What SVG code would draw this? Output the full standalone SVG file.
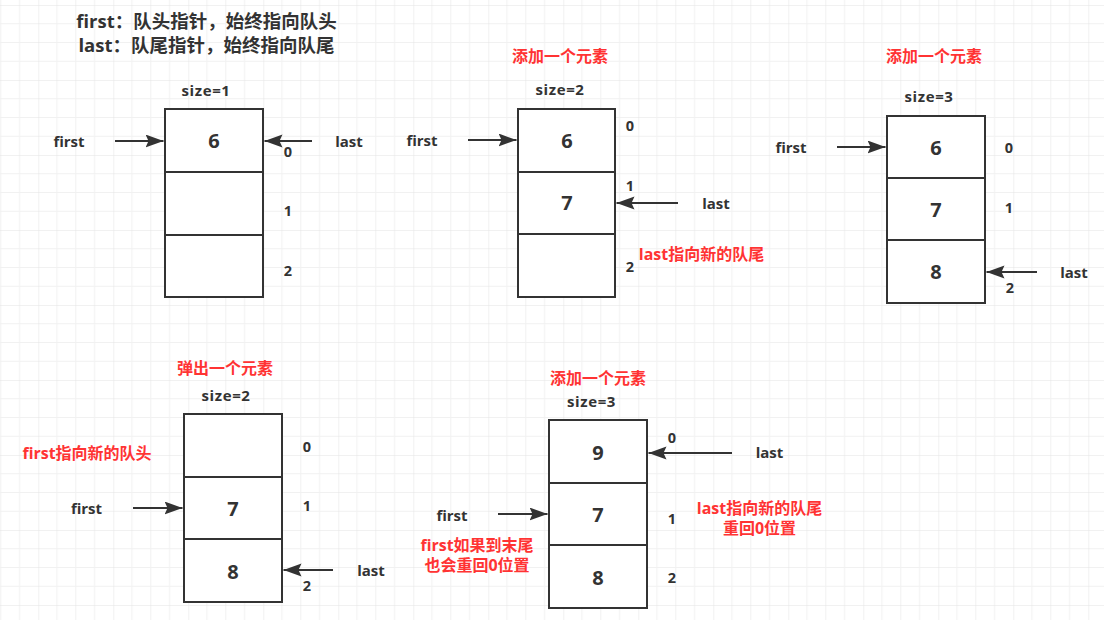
<svg xmlns="http://www.w3.org/2000/svg" width="1104" height="620" viewBox="0 0 1104 620">
<style>
text{font-family:"Open Sans","Noto Sans CJK SC",sans-serif;font-weight:bold;fill:#333333}
.title{font-size:18.5px;text-anchor:middle}
.lbl{font-size:15px;text-anchor:middle}
.size{font-size:15px;text-anchor:middle;letter-spacing:0.6px}
.val{font-size:20px;text-anchor:middle}
.idx{font-size:14.5px;text-anchor:middle}
.red{font-size:16px;text-anchor:middle;fill:#FF3333}
.cell{fill:#ffffff;stroke:#333333;stroke-width:2}
.arr{stroke:#333333;stroke-width:2;fill:none;marker-end:url(#ah)}
</style>
<defs>
<pattern id="grid" patternUnits="userSpaceOnUse" x="38.3" y="5" width="75" height="75">
<path d="M18.75 0V75M37.5 0V75M56.25 0V75M0 18.75H75M0 37.5H75M0 56.25H75" stroke="#F1F1F1" stroke-width="1" fill="none"/>
<path d="M0 0V75M0 0H75" stroke="#E3E3E3" stroke-width="1" fill="none"/>
</pattern>
<marker id="ah" markerUnits="userSpaceOnUse" markerWidth="19" markerHeight="14" refX="18" refY="6.5" orient="auto">
<path d="M0 0L18 6.5L0 13L3 6.5Z" fill="#333333"/>
</marker>
</defs>
<rect width="1104" height="620" fill="#ffffff"/>
<rect width="1104" height="620" fill="url(#grid)"/>

<g id="title">
<text class="title" x="206.5" y="28">first：队头指针，始终指向队头</text>
<text class="title" x="206.5" y="52">last：队尾指针，始终指向队尾</text>
</g>

<g id="queue1">
<text class="size" x="206" y="96">size=1</text>
<rect class="cell" x="165" y="109" width="98" height="63"/>
<rect class="cell" x="165" y="172" width="98" height="63"/>
<rect class="cell" x="165" y="235" width="98" height="62"/>
<text class="val" x="214" y="148">6</text>
<text class="idx" x="288" y="157">0</text>
<text class="idx" x="288" y="216">1</text>
<text class="idx" x="288" y="276">2</text>
<text class="lbl" x="69" y="146.5">first</text>
<text class="lbl" x="349" y="146.5">last</text>
</g>

<g id="queue2">
<text class="red" x="560" y="62">添加一个元素</text>
<text class="size" x="560" y="95">size=2</text>
<rect class="cell" x="518" y="109" width="97" height="63"/>
<rect class="cell" x="518" y="172" width="97" height="62"/>
<rect class="cell" x="518" y="234" width="97" height="63"/>
<text class="val" x="567" y="148">6</text>
<text class="val" x="567" y="210">7</text>
<text class="idx" x="630" y="131">0</text>
<text class="idx" x="630" y="191">1</text>
<text class="idx" x="630" y="272">2</text>
<text class="lbl" x="422" y="146">first</text>
<text class="lbl" x="716" y="208.5">last</text>
<text class="red" x="701.5" y="260">last指向新的队尾</text>
</g>

<g id="queue3">
<text class="red" x="934" y="62">添加一个元素</text>
<text class="size" x="929" y="102">size=3</text>
<rect class="cell" x="887" y="116" width="98" height="62"/>
<rect class="cell" x="887" y="178" width="98" height="62"/>
<rect class="cell" x="887" y="240" width="98" height="63"/>
<text class="val" x="936" y="155">6</text>
<text class="val" x="936" y="217">7</text>
<text class="val" x="936" y="279">8</text>
<text class="idx" x="1009" y="153">0</text>
<text class="idx" x="1009" y="213">1</text>
<text class="idx" x="1010" y="293">2</text>
<text class="lbl" x="791" y="152.5">first</text>
<text class="lbl" x="1074" y="277.5">last</text>
</g>

<g id="queue4">
<text class="red" x="225" y="374">弹出一个元素</text>
<text class="size" x="226" y="401">size=2</text>
<rect class="cell" x="184" y="414" width="98" height="63"/>
<rect class="cell" x="184" y="477" width="98" height="62"/>
<rect class="cell" x="184" y="539" width="98" height="63"/>
<text class="val" x="233" y="516">7</text>
<text class="val" x="233" y="579">8</text>
<text class="idx" x="307" y="452">0</text>
<text class="idx" x="307" y="511">1</text>
<text class="idx" x="307" y="591">2</text>
<text class="lbl" x="86.5" y="513.5">first</text>
<text class="lbl" x="371" y="575.5">last</text>
<text class="red" x="87" y="459">first指向新的队头</text>
</g>

<g id="queue5">
<text class="red" x="598" y="384">添加一个元素</text>
<text class="size" x="591.5" y="407">size=3</text>
<rect class="cell" x="549" y="420" width="98" height="63"/>
<rect class="cell" x="549" y="483" width="98" height="62"/>
<rect class="cell" x="549" y="545" width="98" height="63"/>
<text class="val" x="598" y="460">9</text>
<text class="val" x="598" y="522">7</text>
<text class="val" x="598" y="585">8</text>
<text class="idx" x="672" y="443">0</text>
<text class="idx" x="672" y="524">1</text>
<text class="idx" x="672" y="583">2</text>
<text class="lbl" x="452" y="520.5">first</text>
<text class="lbl" x="769.5" y="457.5">last</text>
<text class="red" x="759.5" y="514"><tspan x="759.5" y="514">last指向新的队尾</tspan><tspan x="759.5" y="533.5">重回0位置</tspan></text>
<text class="red" x="477" y="551"><tspan x="477" y="551">first如果到末尾</tspan><tspan x="477" y="570.5">也会重回0位置</tspan></text>
</g>

<g id="connectors">
<line class="arr" x1="115" y1="141" x2="163.5" y2="141"/>
<line class="arr" x1="312" y1="141" x2="264.5" y2="141"/>
<line class="arr" x1="468" y1="140" x2="516.5" y2="140"/>
<line class="arr" x1="678" y1="203" x2="616.5" y2="203"/>
<line class="arr" x1="837" y1="147" x2="885.5" y2="147"/>
<line class="arr" x1="1037" y1="272" x2="986.5" y2="272"/>
<line class="arr" x1="133" y1="508" x2="182.5" y2="508"/>
<line class="arr" x1="333" y1="570" x2="283.5" y2="570"/>
<line class="arr" x1="498" y1="514" x2="547.5" y2="514"/>
<line class="arr" x1="732" y1="453" x2="648.5" y2="453"/>
</g>
</svg>
